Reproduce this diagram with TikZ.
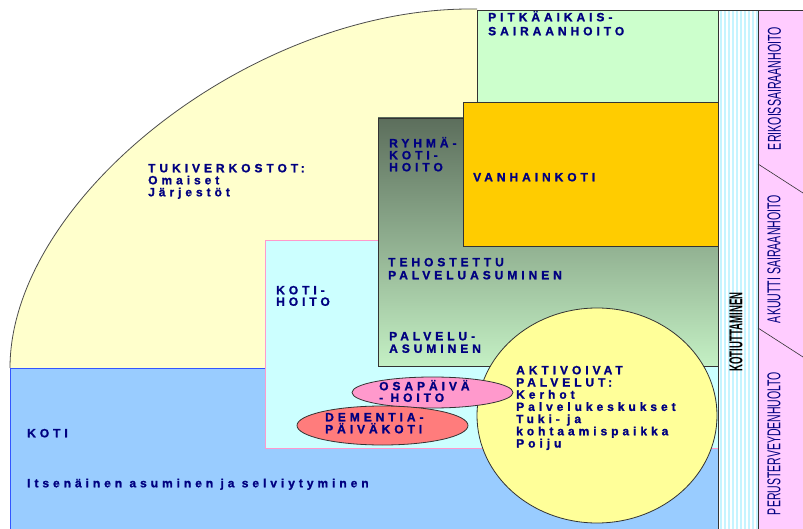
\documentclass[tikz,border=0pt]{standalone}
\usepackage{fontspec}
\usepackage{graphicx}
\newfontfamily\lblfont{Liberation Sans}[LetterSpace=33, BoldFeatures={FakeBold=1.2}]
\newfontfamily\narrowfont{Liberation Sans}
\definecolor{navy}{HTML}{000080}
\definecolor{supportyellow}{HTML}{FFFFCC}
\definecolor{homeblue}{HTML}{99CCFF}
\definecolor{homeborder}{HTML}{3355FF}
\definecolor{homecare}{HTML}{CCFFFF}
\definecolor{homecareborder}{HTML}{FF99CC}
\definecolor{longgreen}{HTML}{CCFFCC}
\definecolor{gradtop}{HTML}{5C6E5C}
\definecolor{gradbottom}{HTML}{C4F0C4}
\definecolor{oldhome}{HTML}{FFCC00}
\definecolor{actyellow}{HTML}{FFFF99}
\definecolor{daypink}{HTML}{FF99CC}
\definecolor{dementred}{HTML}{FF7C7C}
\definecolor{columnpink}{HTML}{FFCCFF}
\definecolor{stripeblue}{HTML}{C6F4FF}
\definecolor{edgegrey}{HTML}{333333}
\begin{document}
\begin{tikzpicture}[x=1pt,y=-1pt,
  lbl/.style={anchor=base west, align=left, inner sep=0pt, text=navy,
    font=\lblfont\bfseries\fontsize{12}{#1}\selectfont},
  lbl/.default=12,
  boxedge/.style={draw=edgegrey, line width=0.8pt},
  vlabel/.style={rotate=90, inner sep=0pt, text=navy}]
\useasboundingbox (0,0) rectangle (803,529);
\fill[white] (0,0) rectangle (803,529);
% support network area
\fill[supportyellow] (10,368) .. controls (10,200) and (250,9) .. (470,9) -- (477,9) -- (477,368) -- cycle;
\draw[gray!60!black, line width=0.8pt] (10,368) .. controls (10,200) and (250,9) .. (470,9) -- (477,9);
% home
\fill[homeblue] (10,368) rectangle (718,529);
\draw[homeborder, line width=1pt] (10,529) -- (10,368) -- (718,368);
% home care
\filldraw[fill=homecare, draw=homecareborder, line width=0.8pt] (265,240) rectangle (718,448);
% long-term hospital care
\filldraw[fill=longgreen, boxedge] (477,10) rectangle (718,102);
% group home / assisted living gradient
\shade[top color=gradtop, bottom color=gradbottom] (378,118) rectangle (718,366);
\draw[boxedge] (378,118) rectangle (718,366);
% old people's home
\filldraw[fill=oldhome, boxedge] (463,102) rectangle (718,246);
% ellipses
\filldraw[fill=actyellow, boxedge] (597,415.5) ellipse [x radius=120pt, y radius=107.5pt];
\filldraw[fill=daypink, boxedge] (432.5,392.5) ellipse [x radius=80.5pt, y radius=15.5pt];
\filldraw[fill=dementred, boxedge] (382.5,425.5) ellipse [x radius=85.5pt, y radius=19.5pt];
% discharge column
\fill[white] (718,10) rectangle (758,529);
\foreach \i in {0,...,9} \fill[stripeblue] ({720+4*\i},10) rectangle ++(2,519);
\draw[boxedge] (718,529) -- (718,10) -- (758,10) -- (758,529);
% pink column
\fill[columnpink] (758,10) rectangle (803,529);
\draw[boxedge] (758,529) -- (758,10) -- (803,10);
\coordinate (d1a) at (758,164); \coordinate (d1b) at (803,193);
\coordinate (d2a) at (758,328); \coordinate (d2b) at (803,357);
\draw[edgegrey, line width=0.6pt] (d1a) -- (d1b);
\draw[edgegrey, line width=0.6pt] (d2a) -- (d2b);
% labels (anchor = baseline of the last line)
\node[lbl=14] (pitka) at (488,35.3) {PITKÄAIKAIS-\\SAIRAANHOITO};
\node[lbl=12] (ryhma) at (389,171.3) {RYHMÄ-\\KOTI-\\HOITO};
\node[lbl] (vanha) at (473,181.3) {VANHAINKOTI};
\node[lbl=12] (tuki) at (148,196.3) {TUKIVERKOSTOT:\\Omaiset\\Järjestöt};
\node[lbl=11.5] (kotihoito) at (276,305.8) {KOTI-\\HOITO};
\node[lbl=13] (tehos) at (388,279.3) {TEHOSTETTU\\PALVELUASUMINEN};
\node[lbl=12.5] (palvelu) at (389,352.8) {PALVELU-\\ASUMINEN};
\node[lbl=12.2] (aktiv) at (516,447.5) {AKTIVOIVAT\\PALVELUT:\\Kerhot\\Palvelukeskukset\\Tuki- ja\\kohtaamispaikka\\Poiju};
\node[lbl=11.5] (osa) at (379,401.8) {OSAPÄIVÄ\\- HOITO};
\node[lbl=12] (dem) at (325,433.3) {DEMENTIA-\\PÄIVÄKOTI};
\node[lbl] (koti) at (27,437.3) {KOTI};
\node[lbl] (itse) at (27,487.3) {Itsenäinen asuminen ja selviytyminen};
% vertical labels
\node[vlabel, text=black] (kotiut) at (736,332) {\resizebox{79pt}{13pt}{\narrowfont\bfseries KOTIUTTAMINEN}};
\node[vlabel] (eriko) at (774.5,88.5) {\resizebox{123pt}{13pt}{\narrowfont ERIKOISSAIRAANHOITO}};
\node[vlabel] (akuut) at (774,259) {\resizebox{128pt}{13pt}{\narrowfont AKUUTTI SAIRAANHOITO}};
\node[vlabel] (perus) at (774,443.5) {\resizebox{143pt}{13pt}{\narrowfont PERUSTERVEYDENHUOLTO}};
\end{tikzpicture}
\end{document}
